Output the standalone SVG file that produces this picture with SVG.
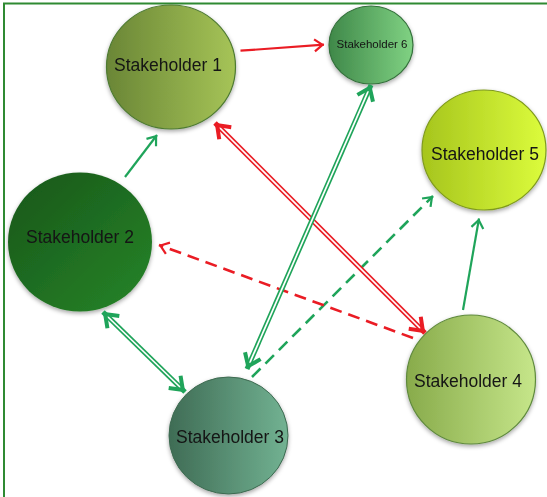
<svg xmlns="http://www.w3.org/2000/svg" width="547" height="497" viewBox="0 0 547 497">
  <style>
    .lbl { font-family: "Liberation Sans", Arial, sans-serif; font-size: 17.5px; fill: #141414; text-anchor: middle; }
    .lbl-sm { font-size: 11.5px; }
    .node { filter: url(#shadow); }
    .red { stroke: #ea1c24; fill: none; }
    .grn { stroke: #1fa45a; fill: none; }
    .thin { stroke-width: 2.2; }
    .dash { stroke-width: 2.6; stroke-dasharray: 12 7; }
    .dbl { stroke-width: 5; }
    .core { stroke: #ffffff; stroke-width: 1.7; fill: none; }
  </style>
  <defs>
    <filter id="shadow" x="-20%" y="-20%" width="140%" height="145%">
      <feDropShadow dx="0" dy="2" stdDeviation="2" flood-color="#000" flood-opacity="0.35"/>
    </filter>
    <linearGradient id="g1" x1="0" y1="0" x2="1" y2="0">
      <stop offset="0" stop-color="#6a8636"/>
      <stop offset="1" stop-color="#a6c457"/>
    </linearGradient>
    <linearGradient id="g2" x1="0" y1="0" x2="1" y2="1">
      <stop offset="0" stop-color="#17561a"/>
      <stop offset="1" stop-color="#278528"/>
    </linearGradient>
    <linearGradient id="g3" x1="0" y1="0" x2="1" y2="0">
      <stop offset="0" stop-color="#3f6c55"/>
      <stop offset="1" stop-color="#72b292"/>
    </linearGradient>
    <linearGradient id="g4" x1="0" y1="0" x2="1" y2="0">
      <stop offset="0" stop-color="#88ab4b"/>
      <stop offset="1" stop-color="#c6e68a"/>
    </linearGradient>
    <linearGradient id="g5" x1="0" y1="0" x2="1" y2="0">
      <stop offset="0" stop-color="#a6c51d"/>
      <stop offset="1" stop-color="#dcfc3c"/>
    </linearGradient>
    <linearGradient id="g6" x1="0" y1="0" x2="1" y2="0">
      <stop offset="0" stop-color="#3f8849"/>
      <stop offset="1" stop-color="#80d283"/>
    </linearGradient>
    <!-- open chevron heads; tip sits on the path end -->
    <marker id="hRed" markerUnits="userSpaceOnUse" viewBox="-14 -10 18 20" markerWidth="18" markerHeight="20" refX="0" refY="0" orient="auto-start-reverse">
      <path d="M-9.5,-6 L-1.5,0 L-9.5,6" fill="none" stroke="#ea1c24" stroke-width="2.2" stroke-linejoin="miter"/>
    </marker>
    <marker id="hGrn" markerUnits="userSpaceOnUse" viewBox="-14 -10 18 20" markerWidth="18" markerHeight="20" refX="0" refY="0" orient="auto-start-reverse">
      <path d="M-9.5,-6 L-1.5,0 L-9.5,6" fill="none" stroke="#1fa45a" stroke-width="2.2" stroke-linejoin="miter"/>
    </marker>
    <marker id="hRedBig" markerUnits="userSpaceOnUse" viewBox="-20 -13 24 26" markerWidth="24" markerHeight="26" refX="0" refY="0" orient="auto-start-reverse">
      <path d="M-14.5,-8.5 L-3,0 L-14.5,8.5" fill="none" stroke="#ea1c24" stroke-width="4" stroke-linejoin="miter"/>
    </marker>
    <marker id="hGrnBig" markerUnits="userSpaceOnUse" viewBox="-20 -13 24 26" markerWidth="24" markerHeight="26" refX="0" refY="0" orient="auto-start-reverse">
      <path d="M-14.5,-8.5 L-3,0 L-14.5,8.5" fill="none" stroke="#1fa45a" stroke-width="4" stroke-linejoin="miter"/>
    </marker>
  </defs>

  <rect width="547" height="497" fill="#ffffff"/>
  <!-- outer frame -->
  <rect x="4" y="3.5" width="570" height="520" fill="none" stroke="#2f8a32" stroke-width="2"/>

  <g id="nodes">
    <g id="stakeholder-1" class="node">
      <ellipse cx="171" cy="67" rx="64.5" ry="62" fill="url(#g1)" stroke="#4d7a30" stroke-width="1.2"/>
      <text class="lbl" x="168" y="71">Stakeholder 1</text>
    </g>
    <g id="stakeholder-6" class="node">
      <ellipse cx="371" cy="45" rx="42" ry="39" fill="url(#g6)" stroke="#33703a" stroke-width="1.2"/>
      <text class="lbl lbl-sm" x="372" y="48">Stakeholder 6</text>
    </g>
    <g id="stakeholder-5" class="node">
      <ellipse cx="484" cy="150" rx="62" ry="60" fill="url(#g5)" stroke="#7f9a1e" stroke-width="1.2"/>
      <text class="lbl" x="485" y="160">Stakeholder 5</text>
    </g>
    <g id="stakeholder-2" class="node">
      <ellipse cx="80" cy="242" rx="72" ry="69.5" fill="url(#g2)"/>
      <text class="lbl" x="80" y="243">Stakeholder 2</text>
    </g>
    <g id="stakeholder-3" class="node">
      <ellipse cx="228.5" cy="435.5" rx="59.5" ry="58.5" fill="url(#g3)" stroke="#3d6a50" stroke-width="1"/>
      <text class="lbl" x="230" y="443">Stakeholder 3</text>
    </g>
    <g id="stakeholder-4" class="node">
      <ellipse cx="471" cy="379.5" rx="64.5" ry="64.5" fill="url(#g4)" stroke="#5f8a3c" stroke-width="1.2"/>
      <text class="lbl" x="468" y="387">Stakeholder 4</text>
    </g>
  </g>

  <g id="connectors">
    <!-- single solid arrows -->
    <path class="red thin" d="M240.5,50.7 L324,44.7" marker-end="url(#hRed)"/>
    <path class="grn thin" d="M125,177 L157,135" marker-end="url(#hGrn)"/>
    <path class="grn thin" d="M463,310 L479,218.5" marker-end="url(#hGrn)"/>

    <!-- dashed arrows -->
    <path class="grn dash" d="M252,377 L433,196" marker-end="url(#hGrn)"/>
    <path class="red dash" d="M413,338 L159,245" marker-end="url(#hRed)"/>

    <!-- double-line, two-headed arrows -->
    <path class="red dbl" d="M215,123 L425,333"/>
    <path class="core" d="M219,127 L421,329"/>
    <path d="M215,123 L425,333" fill="none" stroke="none" marker-start="url(#hRedBig)" marker-end="url(#hRedBig)"/>

    <path class="grn dbl" d="M247,369 L371,85"/>
    <path class="core" d="M249.3,363.8 L368.7,90.2"/>
    <path d="M247,369 L371,85" fill="none" stroke="none" marker-start="url(#hGrnBig)" marker-end="url(#hGrnBig)"/>

    <path class="grn dbl" d="M103,312 L185,392"/>
    <path class="core" d="M107,316 L181,388"/>
    <path d="M103,312 L185,392" fill="none" stroke="none" marker-start="url(#hGrnBig)" marker-end="url(#hGrnBig)"/>
  </g>
</svg>
